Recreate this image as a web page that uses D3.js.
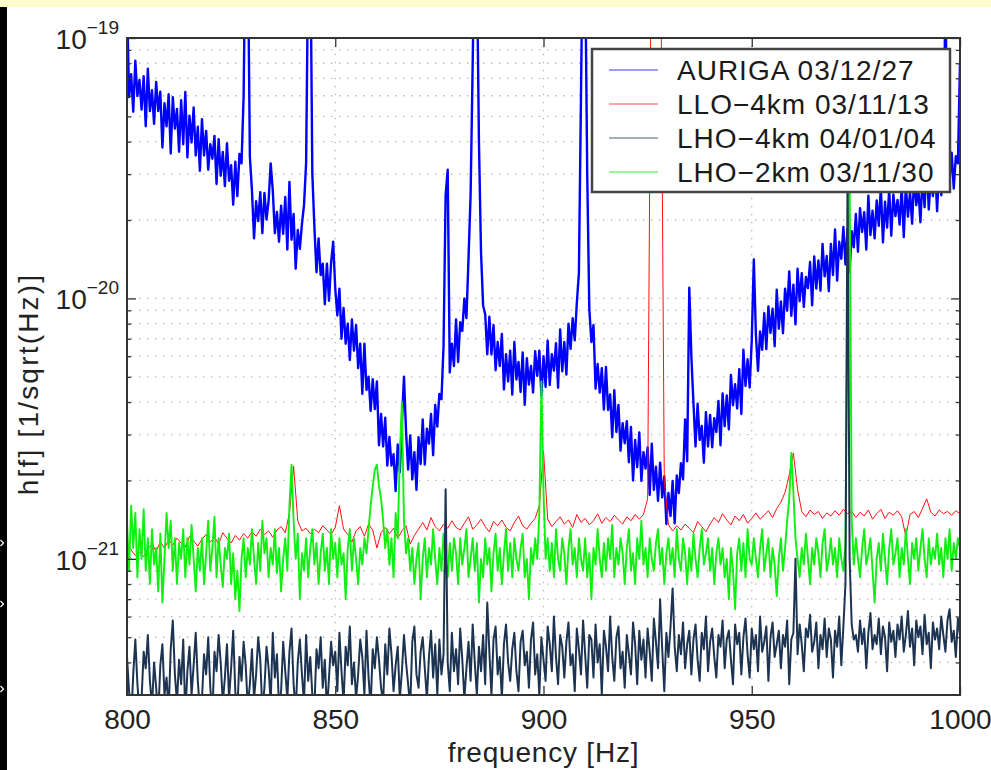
<!DOCTYPE html>
<html>
<head>
<meta charset="utf-8">
<script src="https://cdn.jsdelivr.net/npm/d3@7/dist/d3.min.js"></script>
<style>
  body { margin: 0; background: #fff; }
  svg { display: block; font-family: "Liberation Sans", Arial, Helvetica, sans-serif; }
</style>
</head>
<body>
<svg id="chart" width="991" height="770"></svg>
<script>
// sampling grids (Hz)
const freqFine = d3.range(0, 401).map(i => 800 + i * 0.5);
const freqCoarse = d3.range(0, 201).map(i => 800 + i);

// all amplitudes below are in units of 1e-22 1/sqrt(Hz)
const SCALE = 1e-22;

// AURIGA 03/12/27, 0.5 Hz steps
const aurigaValues = [
  1400, 593, 726, 521, 818, 598, 690, 531, 713, 458,
  762, 524, 630, 468, 678, 524, 622, 380, 562, 458,
  608, 360, 592, 449, 534, 366, 577, 391, 620, 348,
  503, 397, 541, 354, 456, 309, 488, 354, 440, 312,
  391, 344, 421, 275, 409, 296, 365, 270, 394, 283,
  325, 229, 335, 247, 359, 330, 600, 3000, 2500, 350,
  260, 170, 236, 198, 256, 178, 254, 201, 237, 330,
  260, 178, 215, 165, 227, 177, 245, 154, 280, 168,
  211, 130, 183, 155, 193, 228, 330, 2000, 2500, 300,
  187, 126, 170, 123, 136, 95, 136, 98, 137, 165,
  109, 86, 109, 70, 92, 67, 80, 58, 83, 63,
  79, 54, 67, 43, 67, 44.5, 50, 37, 49, 37.6,
  48, 27.3, 36, 27, 34.8, 22.8, 29.4, 22.8, 25.2, 18.2,
  27.5, 21.5, 33, 50, 30.8, 22, 29.8, 20.2, 25.7, 18.4,
  29.3, 23.1, 34.3, 23, 31.6, 27.7, 36, 25, 39, 32.2,
  43, 41, 65.5, 250, 312, 52, 67, 55, 83, 57,
  81, 75, 100, 84, 143, 250, 800, 3000, 2000, 400,
  150, 94, 87, 61, 85, 61, 79, 53, 68, 55,
  73, 44.7, 61, 48, 63, 42.7, 68, 48.8, 57, 43.7,
  62, 39, 59, 46.7, 55, 43.5, 62.7, 50.4, 63, 42,
  60, 45.7, 68.8, 46.5, 61, 52.8, 67.3, 45.4, 76, 52.5,
  68, 51, 80, 64, 84, 69, 96, 125, 600, 3000,
  2000, 300, 91, 68, 79, 45, 56, 43.5, 54, 37.4,
  54.6, 37.3, 42.8, 29.3, 44.4, 30.7, 39, 26, 33.2, 27.8,
  33.8, 23.5, 32.1, 20, 28.6, 22.5, 30.6, 19.9, 25.7, 22.2,
  26.8, 17.6, 27.7, 18.4, 22.6, 16.7, 23.4, 17.2, 20.7, 13.6,
  17.9, 14.6, 19.9, 13.7, 20.9, 17.9, 23.3, 20.2, 34.3, 23.7,
  110, 60, 39.7, 27, 39.4, 28.6, 32.4, 23.4, 36.6, 27,
  35.7, 26.8, 34.7, 30.7, 40.4, 27.3, 43.2, 32.3, 42.4, 31.4,
  50.8, 38.9, 46.8, 37.8, 53.5, 36, 63.5, 46.1, 58.4, 45.5,
  69, 141, 72.3, 52.7, 74.6, 63.5, 87.8, 63.9, 93.2, 73.7,
  91.3, 65.5, 108, 76.5, 97.4, 73.5, 109, 89.7, 127, 85.7,
  113, 79.5, 130, 97.5, 125, 92.7, 121, 109.5, 138, 94,
  145, 109, 140, 107, 162, 121.5, 145.5, 106.6, 162, 123,
  184, 117, 165, 142, 188, 135, 185, 126, 181, 157,
  211, 151, 222, 180, 214.5, 154, 248, 175, 217, 170,
  238, 190, 268, 164, 235, 187, 263, 174, 251, 207,
  239, 192, 268, 172, 271, 206, 256, 193.5, 296, 228,
  265, 196, 293, 224, 331, 219.5, 292, 247, 330, 216,
  323, 249, 309, 1500, 351, 280, 363, 264, 352, 330,
  800
];

// LLO-4km 03/11/13, 1 Hz steps
const lloValues = [
  11.5, 10.8, 10.3, 10.6, 10.2, 10.9, 11.4, 10.7, 11.6, 11.0,
  11.8, 11.3, 12.0, 11.5, 11.1, 12.2, 11.7, 11.2, 11.9, 12.4,
  11.6, 12.1, 11.4, 12.6, 12.0, 11.5, 12.3, 11.8, 12.5, 12.0,
  12.7, 12.2, 13.0, 12.4, 12.8, 12.1, 12.9, 13.3, 12.6, 15.0,
  22.7, 14.0, 12.8, 13.1, 12.5, 13.0, 12.6, 13.4, 12.9, 12.4,
  13.2, 16.0, 13.0, 12.4, 11.6, 12.8, 13.3, 12.2, 13.6, 12.9,
  11.0, 12.6, 13.2, 12.5, 13.1, 12.0, 12.8, 13.4, 11.4, 12.3,
  13.0, 13.8, 12.9, 14.4, 13.3, 12.8, 13.6, 13.1, 14.0, 13.2,
  12.9, 13.7, 14.5, 13.0, 13.5, 14.2, 13.3, 12.7, 13.9, 13.4,
  14.1, 13.2, 12.8, 13.8, 14.6, 13.4, 13.0, 13.7, 14.3, 16.0,
  26.0, 14.2, 13.3, 13.9, 14.5, 13.6, 14.1, 13.2, 14.8, 13.8,
  14.3, 13.5, 14.0, 14.9, 13.7, 14.4, 13.9, 14.7, 14.1, 13.6,
  14.5, 14.0, 14.8, 14.2, 14.8, 17.0, 5000, 8000, 5000, 20.0,
  13.5, 12.8, 13.4, 12.9, 13.6, 13.1, 12.6, 13.9, 13.3, 12.7,
  13.6, 14.4, 13.8, 14.9, 14.1, 13.5, 14.6, 14.0, 14.8, 13.7,
  14.3, 15.0, 14.2, 14.7, 15.3, 14.4, 15.6, 16.5, 18.0, 21.0,
  25.5, 18.5, 15.2, 14.5, 15.4, 14.8, 15.2, 14.3, 15.0, 14.6,
  15.3, 14.7, 15.5, 14.9, 15.2, 14.4, 15.1, 14.6, 15.4, 14.2,
  14.9, 15.5, 14.3, 15.1, 14.7, 15.3, 14.5, 12.2, 14.8, 15.2,
  14.4, 15.6, 17.0, 15.1, 14.6, 15.4, 14.9, 15.2, 14.7, 15.3,
  14.9
];

// LHO-4km 04/01/04, 0.5 Hz steps
const lho4Values = [
  4.2, 3.1, 2.4, 3.6, 4.9, 3.3, 2.6, 2.9, 4.4, 3.8,
  5.1, 3.4, 2.7, 4.0, 3.2, 2.5, 3.9, 4.7, 3.0, 3.5,
  2.6, 4.5, 5.8, 3.6, 2.8, 4.1, 3.3, 4.9, 2.5, 3.7,
  4.6, 3.0, 3.9, 5.2, 3.4, 2.6, 2.9, 4.3, 3.6, 5.0,
  3.2, 2.5, 4.4, 3.7, 5.1, 4.0, 2.8, 3.5, 4.7, 2.9,
  3.8, 5.3, 3.1, 2.6, 4.2, 3.4, 4.8, 3.9, 2.7, 3.3,
  4.5, 2.9, 3.6, 5.0, 4.1, 2.6, 3.2, 4.6, 3.8, 2.8,
  5.2, 3.5, 4.3, 2.7, 3.1, 4.8, 3.7, 2.9, 4.4, 5.4,
  3.3, 2.6, 4.0, 4.9, 3.6, 2.8, 5.1, 3.4, 4.2, 3.0,
  2.7, 4.5, 3.8, 5.0, 3.2, 4.1, 2.6, 3.5, 4.8, 3.9,
  4.4, 3.1, 5.2, 3.7, 2.8, 4.6, 3.9, 5.5, 3.3, 4.0,
  2.9, 3.6, 4.9, 4.2, 3.0, 5.3, 3.5, 2.7, 4.5, 3.8,
  5.0, 4.1, 3.2, 2.8, 4.7, 3.6, 5.4, 4.3, 3.1, 3.9,
  4.6, 2.9, 3.7, 5.1, 4.0, 3.3, 2.7, 4.8, 5.5, 3.6,
  3.2, 4.4, 5.0, 3.8, 2.9, 4.2, 5.3, 3.5, 4.7, 3.0,
  4.9, 3.6, 4.3, 18.5, 4.0, 3.1, 5.2, 3.7, 4.5, 3.3,
  5.4, 4.1, 2.9, 3.8, 4.8, 3.4, 5.6, 4.0, 3.0, 4.6,
  3.7, 5.1, 3.3, 6.8, 4.4, 3.0, 4.9, 5.5, 3.6, 4.2,
  2.9, 4.7, 5.6, 4.0, 3.4, 4.5, 5.2, 3.7, 3.1, 4.8,
  5.3, 3.9, 4.4, 3.2, 4.9, 5.7, 3.6, 4.3, 3.0, 5.0,
  4.1, 3.4, 5.5, 4.7, 3.7, 6.0, 4.2, 3.3, 5.1, 4.6,
  3.5, 4.8, 5.7, 3.9, 4.3, 3.1, 5.4, 4.5, 3.6, 5.8,
  4.3, 3.2, 5.1, 4.9, 3.5, 5.6, 4.0, 4.7, 3.0, 5.3,
  4.6, 3.7, 6.0, 4.2, 3.4, 5.0, 5.5, 3.8, 4.4, 3.2,
  5.1, 4.3, 3.6, 5.7, 4.7, 3.3, 5.3, 4.1, 4.9, 3.5,
  5.4, 4.4, 3.4, 5.9, 4.8, 3.8, 7.0, 4.5, 3.1, 5.2,
  4.2, 5.5, 7.7, 4.6, 3.7, 5.1, 4.3, 5.7, 3.8, 4.7,
  5.3, 3.6, 4.9, 5.6, 4.1, 3.4, 5.2, 4.5, 6.0, 3.7,
  4.8, 5.4, 4.2, 3.5, 5.1, 4.6, 5.8, 3.8, 4.9, 5.3,
  4.1, 3.3, 5.6, 4.7, 5.2, 3.6, 5.0, 5.9, 4.3, 3.5,
  5.4, 4.5, 5.1, 3.7, 6.0, 4.4, 4.8, 5.5, 3.4, 5.0,
  5.7, 4.2, 4.7, 5.3, 3.8, 5.1, 4.6, 5.8, 3.3, 4.9,
  5.2, 10.0, 4.3, 5.6, 4.7, 3.7, 5.4, 5.0, 6.1, 4.4,
  4.8, 5.7, 3.8, 5.1, 4.5, 5.9, 4.2, 5.4, 4.9, 3.5,
  5.3, 4.6, 6.0, 3.9, 5.5, 8.0, 300, 10.0, 5.6, 4.9,
  5.1, 4.4, 5.8, 4.7, 5.4, 3.8, 5.2, 6.2, 4.5, 5.1,
  4.7, 5.9, 4.3, 5.5, 5.0, 3.7, 5.7, 4.8, 5.3, 4.2,
  5.6, 4.9, 6.0, 4.4, 5.1, 6.3, 4.6, 5.4, 3.9, 5.8,
  5.0, 5.5, 4.3, 6.1, 4.7, 5.2, 3.8, 5.7, 4.9, 5.4,
  4.5, 6.0, 5.1, 4.4, 5.8, 6.4, 4.8, 5.3, 4.2, 5.9,
  5.1
];

// LHO-2km 03/11/30, 0.5 Hz steps
const lho2Values = [
  14, 9, 16, 11, 15, 8.5, 13, 10, 15.5, 9,
  12, 8, 13, 9.5, 11, 7.5, 12.5, 6.8, 10, 15,
  11, 14, 9, 12, 8, 11.5, 10, 13, 8.5, 12,
  9.5, 13.5, 10, 7.5, 11, 9, 12, 8, 10.5, 14,
  9, 11, 14.5, 8.5, 12, 9.5, 7.8, 11, 10, 12.5,
  8, 10.5, 7, 9, 6.3, 10, 12, 8.5, 11, 9.5,
  13, 10, 8, 11.5, 9, 14, 10.5, 12, 8.5, 11,
  9.5, 13, 8.8, 11, 7.5, 10, 12, 9, 16, 23,
  14, 10, 12.5, 7, 10.5, 9, 12, 8.5, 11, 13,
  9.5, 11.5, 8, 10.5, 12.5, 9, 11, 8, 13, 10,
  11.5, 8.5, 12, 9.5, 10.5, 7, 11, 13, 9, 12,
  10, 8, 11, 9.5, 12, 10.5, 13, 16, 19, 22,
  23, 19, 17, 14, 11, 13, 9.5, 12, 8.5, 15,
  12, 25, 40, 14, 10.5, 12, 9, 11, 8, 10,
  11.5, 7, 10, 12, 8.5, 11, 9.5, 13, 10, 8,
  11, 9, 12.5, 10, 8.5, 11.5, 9, 12, 10.5, 8,
  12, 9.5, 11, 13, 8.5, 10, 12, 9, 11.5, 6.8,
  10, 8.5, 12, 9.5, 11, 7.5, 10.5, 12.5, 9, 11,
  8, 10.5, 13, 9, 11.5, 8.5, 12, 10, 9, 11,
  12.5, 8.5, 10, 7, 11, 9.5, 12, 10, 15, 48,
  18, 10, 12, 9, 11.5, 8.5, 13, 10, 9, 12,
  10.5, 8, 11, 13, 9.5, 11, 8.5, 12, 10, 9,
  12, 8.5, 10.5, 7, 11, 9.5, 13, 10, 8.5, 11.5,
  9, 12, 10, 13.5, 8.5, 11, 9.5, 12, 10.5, 8,
  11, 13, 9, 10.5, 8, 12, 10, 14, 9.5, 11,
  8.5, 12, 10, 9, 11.5, 13, 9.5, 11, 8, 10.5,
  12, 9.5, 11, 8.5, 13, 10, 9, 12, 10.5, 8,
  11, 9, 12.5, 10, 8.5, 11, 13, 9.5, 10.5, 12,
  9, 11, 8, 10.5, 12, 9.5, 11, 8.5, 10, 7,
  11, 9, 6.4, 10.5, 12, 9, 11.5, 8.5, 13, 10,
  9.5, 12, 10, 8.5, 11, 13, 9, 10.5, 12, 8.5,
  11, 9.5, 7.2, 10, 12, 9, 11, 14, 17, 25.5,
  18, 12, 10, 8.5, 11, 9.5, 12.5, 10, 8, 11,
  9.5, 12, 10.5, 8.5, 11.5, 13, 9, 10, 12, 9.5,
  11, 8.5, 12, 10, 9, 11.5, 120, 320, 14, 9.5,
  12, 10, 8.5, 11, 13, 9.5, 10.5, 12, 9, 6.8,
  10, 11.5, 9, 12.5, 10, 8, 11, 13, 9.5, 10.5,
  12, 8.5, 11, 9.5, 13, 10, 8, 11.5, 10, 12,
  9, 11, 13, 10, 8.5, 12, 9.5, 11, 10, 12.5,
  9.5, 11, 8.5, 12, 10, 13, 9, 11.5, 10, 12,
  11
];

const legendLabels = ["AURIGA 03/12/27", "LLO\u22124km 03/11/13", "LHO\u22124km 04/01/04", "LHO\u22122km 03/11/30"];
const xTicks = [800, 850, 900, 950, 1000];
const yMajor = [1e-21, 1e-20, 1e-19];
const yExponents = ["\u221221", "\u221220", "\u221219"];

const W = 991, H = 770;
const plot = { left: 127, right: 960, top: 38, bottom: 695 };

const svg = d3.select("#chart");

// page frame: yellow strip on top, black strip on the left
svg.append("rect").attr("width", W).attr("height", H).attr("fill", "#fff");
svg.append("rect").attr("width", W).attr("height", 7).attr("fill", "#fefccf");
svg.append("rect").attr("y", 7).attr("width", 7).attr("height", H - 7).attr("fill", "#000");
[543, 604, 689].forEach(yy => {
  svg.append("path")
    .attr("d", `M0.5,${yy - 3}L3.5,${yy}L0.5,${yy + 3}`)
    .attr("fill", "none").attr("stroke", "#fff").attr("stroke-width", 1.2);
});

const x = d3.scaleLinear().domain([800, 1000]).range([plot.left, plot.right]);
const y = d3.scaleLog().domain([3e-22, 1e-19]).range([plot.bottom, plot.top]);

// minor + major grid values
const yGrid = [];
[-22, -21, -20].forEach(e => {
  for (let m = 1; m <= 9; m++) {
    const v = m * Math.pow(10, e);
    if (v >= 2.99e-22 && v <= 1.01e-19) yGrid.push(v);
  }
});
yGrid.push(1e-19);
const yMinor = yGrid.filter(v => !yMajor.some(M => Math.abs(v / M - 1) < 1e-6) && Math.abs(v / 3e-22 - 1) > 1e-6);

// dotted grid
const grid = svg.append("g").attr("stroke", "#b2b2b2").attr("stroke-width", 1.3).attr("stroke-dasharray", "1.3 6.7");
grid.selectAll(".gy").data(yGrid.filter(v => v > 3.01e-22 && v < 0.99e-19)).enter().append("line")
  .attr("x1", plot.left + 4).attr("x2", plot.right)
  .attr("y1", d => y(d)).attr("y2", d => y(d));
grid.selectAll(".gx").data(xTicks.slice(1, -1)).enter().append("line")
  .attr("y1", plot.top).attr("y2", plot.bottom)
  .attr("x1", d => x(d)).attr("x2", d => x(d));

// curves
svg.append("clipPath").attr("id", "clip").append("rect")
  .attr("x", plot.left).attr("y", plot.top)
  .attr("width", plot.right - plot.left).attr("height", plot.bottom - plot.top);

const line = d3.line().x(d => x(d[0])).y(d => y(d[1] * SCALE));
const series = [
  { label: legendLabels[0], f: freqFine, v: aurigaValues, color: "#0000ff", width: 2.4 },
  { label: legendLabels[1], f: freqCoarse, v: lloValues, color: "#ff1010", width: 1.0 },
  { label: legendLabels[3], f: freqFine, v: lho2Values, color: "#11ee11", width: 1.9 },
  { label: legendLabels[2], f: freqFine, v: lho4Values, color: "#1c3452", width: 2.0 }
];
const curves = svg.append("g").attr("clip-path", "url(#clip)");
series.forEach(s => {
  curves.append("path")
    .datum(s.f.map((f, i) => [f, s.v[i]]))
    .attr("d", line)
    .attr("fill", "none")
    .attr("stroke", s.color)
    .attr("stroke-width", s.width)
    .attr("stroke-linejoin", "round");
});

// axes with inward ticks
const axisColor = "#333";
function styleAxis(g) {
  g.select(".domain").remove();
  g.selectAll(".tick line").attr("stroke", axisColor).attr("stroke-width", 1.3);
}
svg.append("g").attr("transform", `translate(${plot.left},0)`)
  .call(d3.axisLeft(y).tickValues(yMinor).tickSize(-4).tickFormat("")).call(styleAxis);
svg.append("g").attr("transform", `translate(${plot.left},0)`)
  .call(d3.axisLeft(y).tickValues(yMajor).tickSize(-9).tickFormat("")).call(styleAxis);
svg.append("g").attr("transform", `translate(${plot.right},0)`)
  .call(d3.axisRight(y).tickValues(yMinor).tickSize(-4).tickFormat("")).call(styleAxis);
svg.append("g").attr("transform", `translate(${plot.right},0)`)
  .call(d3.axisRight(y).tickValues(yMajor).tickSize(-9).tickFormat("")).call(styleAxis);
svg.append("g").attr("transform", `translate(0,${plot.top})`)
  .call(d3.axisTop(x).tickValues(xTicks).tickSize(-9).tickFormat("")).call(styleAxis);
const xAxis = svg.append("g").attr("transform", `translate(0,${plot.bottom})`)
  .call(d3.axisBottom(x).tickValues(xTicks).tickSize(-9).tickPadding(14).tickFormat(d3.format("d")));
styleAxis(xAxis);
xAxis.selectAll("text").attr("font-size", 28).attr("fill", "#222").attr("font-family", "Liberation Sans, Arial, sans-serif");

svg.append("rect")
  .attr("x", plot.left).attr("y", plot.top)
  .attr("width", plot.right - plot.left).attr("height", plot.bottom - plot.top)
  .attr("fill", "none").attr("stroke", axisColor).attr("stroke-width", 2);

// y tick labels 10^n
yMajor.forEach((v, i) => {
  const t = svg.append("text")
    .attr("x", 119).attr("y", y(v) + 11)
    .attr("text-anchor", "end").attr("font-size", 28).attr("fill", "#222");
  t.append("tspan").text("10");
  t.append("tspan").attr("font-size", 19).attr("dy", -15).text(yExponents[i]);
});

// axis titles
svg.append("text")
  .attr("x", (plot.left + plot.right) / 2).attr("y", 762)
  .attr("text-anchor", "middle").attr("font-size", 28).attr("fill", "#222")
  .attr("letter-spacing", 0.8)
  .text("frequency [Hz]");
svg.append("text")
  .attr("transform", `translate(38,384) rotate(-90)`)
  .attr("text-anchor", "middle").attr("font-size", 28).attr("fill", "#222")
  .attr("letter-spacing", 2.2)
  .text("h[f] [1/sqrt(Hz)]");

// legend
const legend = svg.append("g");
legend.append("rect")
  .attr("x", 592).attr("y", 49).attr("width", 358).attr("height", 143)
  .attr("fill", "#fff").attr("stroke", "#444").attr("stroke-width", 2.5);
const legendColors = ["#3a3aff", "#ff4a4a", "#4f6378", "#33ee33"];
legendLabels.forEach((lab, i) => {
  const ly = 70 + i * 34;
  legend.append("line")
    .attr("x1", 609).attr("x2", 658).attr("y1", ly).attr("y2", ly)
    .attr("stroke", legendColors[i]).attr("stroke-width", 1.2);
  legend.append("text")
    .attr("x", 677).attr("y", ly + 10)
    .attr("font-size", 28).attr("fill", "#1a1a1a")
    .attr("letter-spacing", 1)
    .text(lab);
});
</script>
</body>
</html>
